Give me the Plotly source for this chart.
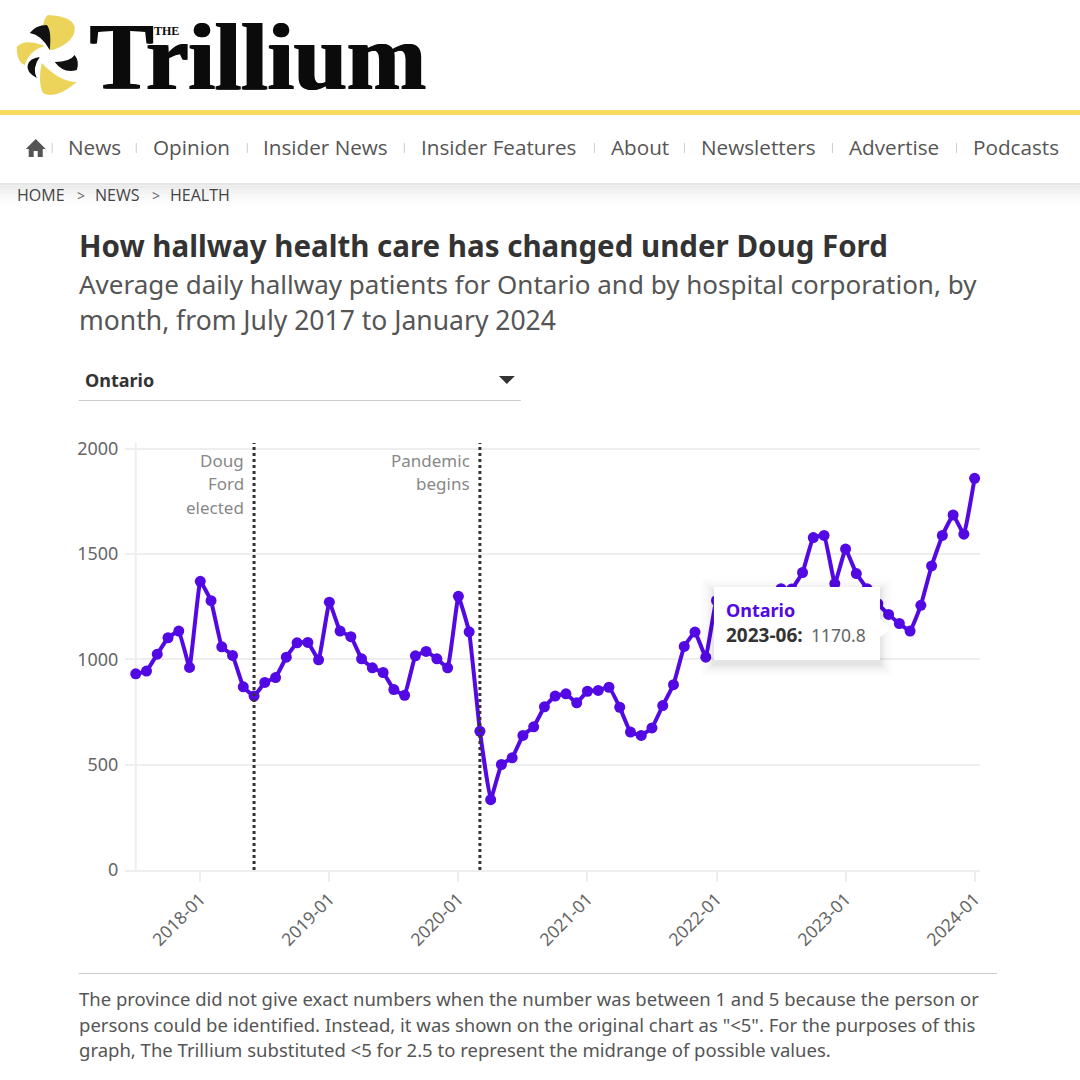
import plotly.graph_objects as go

months = [
    "2017-07", "2017-08", "2017-09", "2017-10", "2017-11", "2017-12",
    "2018-01", "2018-02", "2018-03", "2018-04", "2018-05", "2018-06",
    "2018-07", "2018-08", "2018-09", "2018-10", "2018-11", "2018-12",
    "2019-01", "2019-02", "2019-03", "2019-04", "2019-05", "2019-06",
    "2019-07", "2019-08", "2019-09", "2019-10", "2019-11", "2019-12",
    "2020-01", "2020-02", "2020-03", "2020-04", "2020-05", "2020-06",
    "2020-07", "2020-08", "2020-09", "2020-10", "2020-11", "2020-12",
    "2021-01", "2021-02", "2021-03", "2021-04", "2021-05", "2021-06",
    "2021-07", "2021-08", "2021-09", "2021-10", "2021-11", "2021-12",
    "2022-01", "2022-02", "2022-03", "2022-04", "2022-05", "2022-06",
    "2022-07", "2022-08", "2022-09", "2022-10", "2022-11", "2022-12",
    "2023-01", "2023-02", "2023-03", "2023-04", "2023-05", "2023-06",
    "2023-07", "2023-08", "2023-09", "2023-10", "2023-11", "2023-12",
    "2024-01",
]
ontario = [
    932, 945, 1025, 1103, 1135, 962,
    1371, 1279, 1060, 1019, 870, 826,
    891, 914, 1011, 1079, 1081, 998,
    1272, 1135, 1108, 1003, 960, 938,
    857, 830, 1017, 1038, 1003, 960,
    1300, 1131, 659, 334, 501, 533,
    639, 680, 775, 826, 837, 794,
    849, 853, 868, 773, 655, 639,
    675, 781, 880, 1062, 1130, 1011,
    1280, 1210, 1150, 1130, 1170, 1300,
    1336, 1335, 1413, 1579, 1589, 1360,
    1524, 1408, 1336, 1265, 1214, 1170.8,
    1135, 1257, 1444, 1589, 1686, 1595,
    1860,
]
year_ticks = ["2018-01", "2019-01", "2020-01", "2021-01", "2022-01", "2023-01", "2024-01"]
y_ticks = [0, 500, 1000, 1500, 2000]
events = ["2018-06", "2020-03"]
event_labels = [["Doug", "Ford", "elected"], ["Pandemic", "begins"]]
nav_items = ["News", "Opinion", "Insider News", "Insider Features", "About", "Newsletters", "Advertise", "Podcasts"]
nav_x = [68, 153, 263, 421, 611, 701, 849, 973]
nav_sep_x = [52, 136, 247, 404, 594, 684, 832, 956]
footer_lines = [
    "The province did not give exact numbers when the number was between 1 and 5 because the person or",
    'persons could be identified. Instead, it was shown on the original chart as "<5". For the purposes of this',
    "graph, The Trillium substituted <5 for 2.5 to represent the midrange of possible values.",
]

PURPLE = "#5209e3"
YELLOW = "#ecd45a"

# plot box in page pixels, everything around the chart is placed from these
# the box starts one month before the data so the first marker is not cut
LEFT, RIGHT, TOP, BOTTOM = 125.25, 980, 443, 870


def px(x):
    return (x - LEFT) / (RIGHT - LEFT)


def py(y):
    return (BOTTOM - y) / (BOTTOM - TOP)


def path(points):
    parts = []
    for i, (x, y) in enumerate(points):
        parts.append(("M" if i == 0 else "L") + f"{px(x):.4f},{py(y):.4f}")
    return " ".join(parts) + " Z"


def curve(start, segs):
    d = f"M{px(start[0]):.4f},{py(start[1]):.4f}"
    for c, e in segs:
        d += f" Q{px(c[0]):.4f},{py(c[1]):.4f} {px(e[0]):.4f},{py(e[1]):.4f}"
    return d + " Z"


def rect(x0, y0, x1, y1, color, layer="above", opacity=1):
    return dict(type="rect", xref="paper", yref="paper", x0=px(x0), x1=px(x1), y0=py(y0), y1=py(y1),
                fillcolor=color, line_width=0, layer=layer, opacity=opacity)


def blob(d, color):
    return dict(type="path", xref="paper", yref="paper", path=d, fillcolor=color, line_width=0, layer="above")


def label(x, y, text, size, color="#555", family="Noto Sans", anchor="left", **font_extra):
    return dict(xref="paper", yref="paper", x=px(x), y=py(y), text=text, showarrow=False,
                xanchor=anchor, yanchor="middle", align=anchor, borderpad=0, borderwidth=0,
                font=dict(size=size, color=color, family=family, **font_extra))


fig = go.Figure()
fig.add_trace(go.Scatter(
    x=months, y=ontario, mode="lines+markers", name="Ontario", cliponaxis=False,
    line=dict(color=PURPLE, width=4, shape="spline", smoothing=0.25),
    marker=dict(color=PURPLE, size=11),
))

shapes = []
annotations = []

# logo
shapes.append(blob(curve((50, 50), [((38, 25), (48, 15)), ((72, 16), (75, 27)), ((76, 42), (53, 50))]), YELLOW))
shapes.append(blob(curve((45, 46), [((25, 38), (17, 47)), ((17, 62), (25, 65)), ((30, 50), (45, 46))]), YELLOW))
shapes.append(blob(curve((42, 63), [((38, 82), (43, 93)), ((56, 100), (77, 82)), ((60, 82), (42, 63))]), YELLOW))
shapes.append(blob(curve((50, 50), [((52, 30), (47, 25)), ((36, 25), (30, 33)), ((42, 35), (50, 50))]), "#111"))
shapes.append(blob(curve((55, 62), [((70, 62), (75, 55)), ((80, 62), (77, 70)), ((64, 74), (55, 62))]), "#111"))
shapes.append(blob(curve((40, 57), [((30, 58), (28, 65)), ((26, 72), (37, 78)), ((32, 68), (40, 57))]), "#111"))
annotations.append(label(90, 57, "<b>Trillium</b>", 95, "#0b0b0b", "Liberation Serif",
                         shadow="1.2px 0 0 #0b0b0b, -1.2px 0 0 #0b0b0b"))
annotations.append(label(154, 31, "<b>THE</b>", 12, "#0b0b0b", "Liberation Serif"))

# header bar and nav
shapes.append(rect(0, 110, 1080, 115, "#f7da5f"))
for i, c in enumerate(["#e6e6e6", "#ebebeb", "#efefef", "#f2f2f2", "#f5f5f5", "#f7f7f7", "#f9f9f9", "#fbfbfb", "#fdfdfd"]):
    shapes.append(rect(0, 183 + i * 2.5, 1080, 185.5 + i * 2.5, c))
shapes.append(blob(path([(36, 139), (46, 149), (43, 149), (43, 157), (38, 157), (38, 151), (34, 151), (34, 157),
                         (29, 157), (29, 149), (26, 149)]), "#555"))
for name, x in zip(nav_items, nav_x):
    annotations.append(label(x, 147, name, 20.7, "#555", "Open Sans"))
for x in nav_sep_x:
    shapes.append(rect(x, 143, x + 1, 153, "#ccc"))
annotations.append(label(17, 195, "HOME", 16, "#444", "Open Sans"))
annotations.append(label(77, 195, "&gt;", 14, "#666", "Open Sans"))
annotations.append(label(95, 195, "NEWS", 16, "#444", "Open Sans"))
annotations.append(label(152, 195, "&gt;", 14, "#666", "Open Sans"))
annotations.append(label(170, 195, "HEALTH", 16, "#444", "Open Sans"))

# chart heading and dropdown
annotations.append(label(79, 246, "<b>How hallway health care has changed under Doug Ford</b>", 29.5, "#333"))
annotations.append(label(79, 284, "Average daily hallway patients for Ontario and by hospital corporation, by", 26, "#555"))
annotations.append(label(79, 320, "month, from July 2017 to January 2024", 26.5, "#555"))
annotations.append(label(85, 380, "<b>Ontario</b>", 18, "#333"))
shapes.append(blob(path([(499, 376), (515, 376), (507, 384)]), "#333"))
shapes.append(rect(79, 400, 521, 401, "#ccc"))

# y axis line sits on the first month
shapes.append(dict(type="line", xref="x", yref="y", x0=months[0], x1=months[0], y0=0, y1=2028,
                   line=dict(color="#eee", width=2), layer="below"))

# event lines
for month, lines in zip(events, event_labels):
    shapes.append(dict(type="line", xref="x", yref="y", x0=month, x1=month, y0=0, y1=2028,
                       line=dict(color="#333", width=3, dash="dot"), layer="above"))
    for i, text in enumerate(lines):
        annotations.append(dict(xref="x", yref="paper", x=month, y=py(460 + i * 23.5), text=text, showarrow=False,
                                xanchor="right", yanchor="middle", align="right", xshift=-8,
                                font=dict(size=17, color="#888", family="Noto Sans")))

# tooltip for June 2023
for grow, alpha in [(12, 0.012), (9, 0.015), (6, 0.02), (4, 0.025), (2, 0.03)]:
    shapes.append(rect(714 - grow, 587 - grow + 4, 880 + grow, 660 + grow + 4, "#000", opacity=alpha))
shapes.append(rect(714, 587, 880, 660, "#fff"))
shapes.append(blob(path([(879, 618), (892, 628), (879, 638)]), "#fff"))
annotations.append(label(726, 610, "<b>Ontario</b>", 18, PURPLE))
annotations.append(label(726, 635, "<b>2023-06:</b>", 19, "#333"))
annotations.append(label(811, 635, "1170.8", 17.5, "#666"))

# footer
shapes.append(rect(79, 973, 997, 974, "#ccc"))
for line, y in zip(footer_lines, [998, 1024, 1049]):
    annotations.append(label(79, y, line.replace("<5", "&lt;5"), 18.5, "#555"))

fig.update_layout(
    width=1080, height=1080,
    margin=dict(l=LEFT, r=1080 - RIGHT, t=TOP, b=1080 - BOTTOM, pad=0),
    paper_bgcolor="white", plot_bgcolor="white",
    showlegend=False,
    font=dict(family="Noto Sans", color="#666"),
    shapes=shapes, annotations=annotations,
)
fig.update_xaxes(
    type="category", categoryorder="array", categoryarray=months, range=[-1, 78.5],
    tickmode="array", tickvals=year_ticks, ticktext=year_ticks,
    tickangle=-45, tickfont=dict(size=17.5, color="#666"), showgrid=False, zeroline=False,
    showline=True, linecolor="#eee", linewidth=2, ticks="outside", ticklen=10, tickcolor="#eee", tickwidth=2,
)
fig.update_yaxes(
    range=[0, 2028], tickmode="array", tickvals=y_ticks, tickfont=dict(size=18, color="#666"),
    showgrid=True, gridcolor="#eee", gridwidth=2, zeroline=False, showline=False,
    ticks="outside", ticklen=2, tickcolor="rgba(0,0,0,0)",
)

fig.write_html("out.html", config=dict(displayModeBar=False), post_script="document.body.style.margin='0';")
